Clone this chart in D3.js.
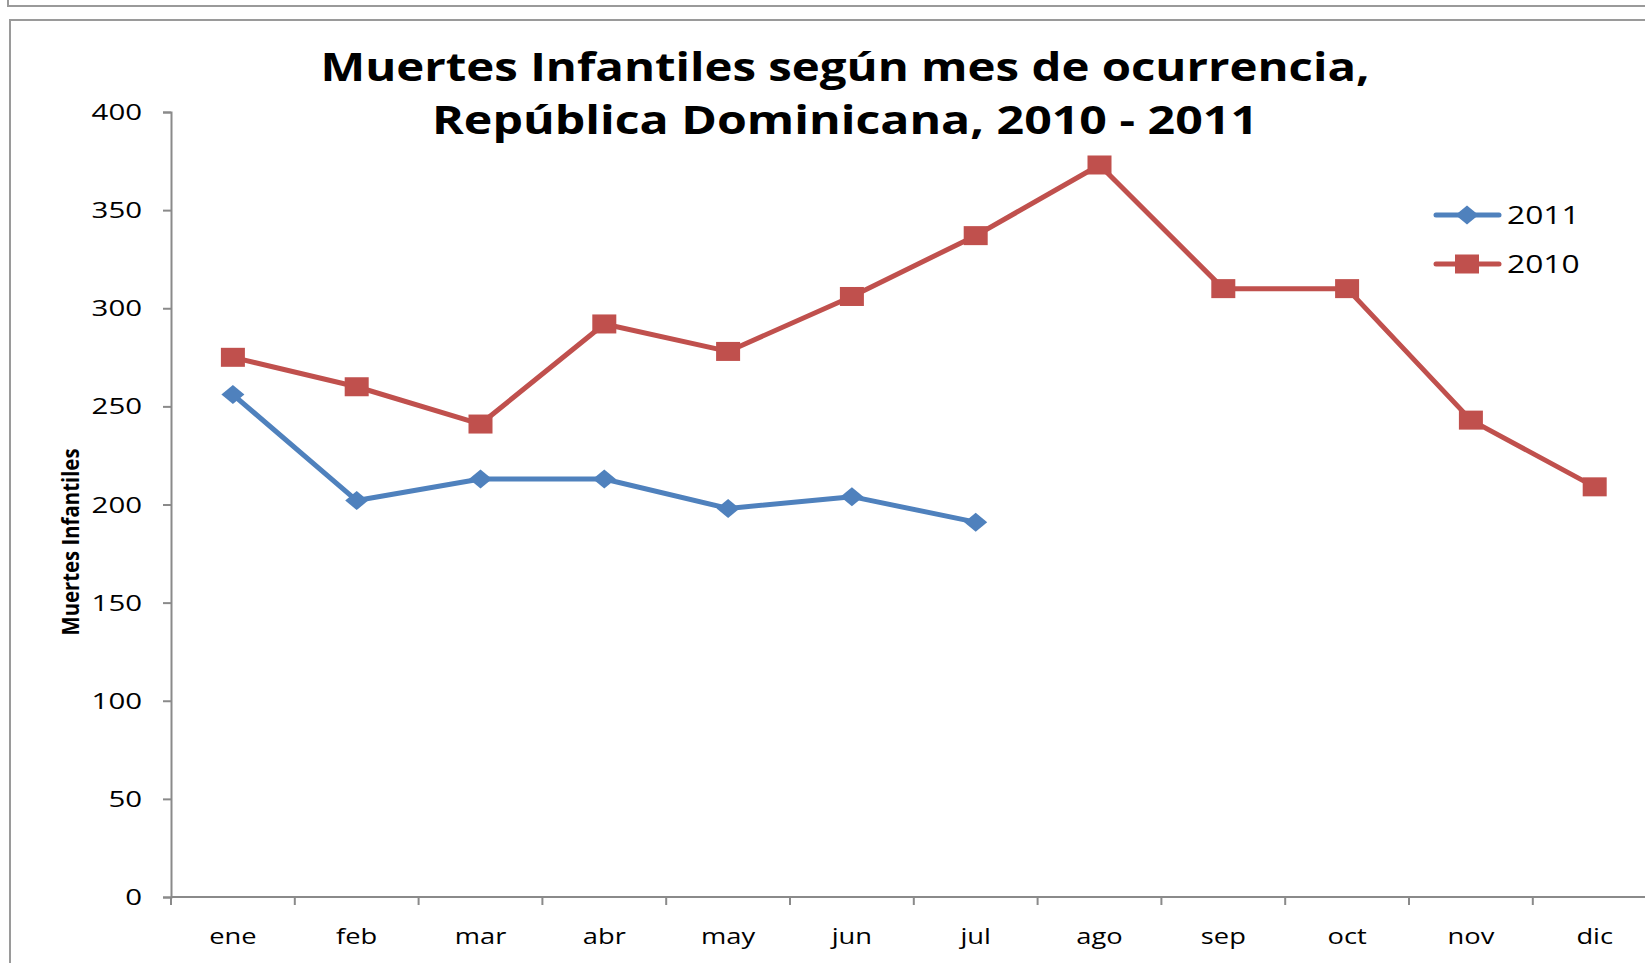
<!DOCTYPE html>
<html>
<head>
<meta charset="utf-8">
<script src="https://cdn.jsdelivr.net/npm/d3@7"></script>
<style>
  html, body { margin: 0; padding: 0; background: #fff; }
  svg { display: block; }
  text { font-family: "Open Sans", "DejaVu Sans", sans-serif; fill: #000; }
</style>
</head>
<body>
<svg id="chart" width="1645" height="963"></svg>
<script>
// ---- data ----
const months = ["ene","feb","mar","abr","may","jun","jul","ago","sep","oct","nov","dic"];
const values2010 = [275, 260, 241, 292, 278, 306, 337, 373, 310, 310, 243, 209];
const values2011 = [256, 202, 213, 213, 198, 204, 191];
const yTicks = [0, 50, 100, 150, 200, 250, 300, 350, 400];
const seriesNames = ["2011", "2010"];
const titleLines = ["Muertes Infantiles según mes de ocurrencia,", "República Dominicana, 2010 - 2011"];
const yTitle = "Muertes Infantiles";

// ---- layout ----
const W = 1645, H = 963;
const plotLeft = 171, plotTop = 112, plotBottom = 897, band = 123.8;
const blue = "#4F81BD", red = "#C0504D", axisCol = "#8a8a8a";

const svg = d3.select("#chart");

// stretch helper: widen text horizontally like the reference
function stretch(sel, k) {
  sel.each(function() {
    const len = this.getComputedTextLength();
    d3.select(this).attr("textLength", len * k).attr("lengthAdjust", "spacingAndGlyphs");
  });
}

// frames
svg.append("path").attr("d", `M8,0 V6 H${W}`).attr("fill", "none").attr("stroke", "#9a9a9a").attr("stroke-width", 2);
svg.append("path").attr("d", `M10,${H} V20 H${W}`).attr("fill", "none").attr("stroke", "#9a9a9a").attr("stroke-width", 2);

// scales
const x = d3.scaleBand().domain(months).range([plotLeft, plotLeft + band * months.length]);
const y = d3.scaleLinear().domain([0, 400]).range([plotBottom, plotTop]);
const cx = d => x(d) + x.bandwidth() / 2;

// y axis
const yAxis = svg.append("g").attr("transform", `translate(${plotLeft},0)`)
  .call(d3.axisLeft(y).tickValues(yTicks).tickSize(8).tickPadding(21));
yAxis.select(".domain").attr("stroke", axisCol).attr("stroke-width", 2);
yAxis.selectAll(".tick line").attr("stroke", axisCol).attr("stroke-width", 2);
yAxis.selectAll(".tick text").attr("font-size", 21).attr("font-family", "Open Sans").attr("dy", "0.36em");
stretch(yAxis.selectAll(".tick text"), 1.4);

// x axis
const xAxis = svg.append("g").attr("transform", `translate(0,${plotBottom})`)
  .call(d3.axisBottom(x).tickSize(0).tickPadding(0));
xAxis.select(".domain").attr("stroke", axisCol).attr("stroke-width", 2)
  .attr("d", `M${plotLeft},0H${W + 20}`);
xAxis.selectAll(".tick text").attr("font-size", 21).attr("font-family", "Open Sans")
  .attr("dy", null).attr("y", 47);
stretch(xAxis.selectAll(".tick text"), 1.3);
// boundary ticks (between categories)
xAxis.selectAll("line.bound").data(months).join("line").attr("class", "bound")
  .attr("x1", d => x(d)).attr("x2", d => x(d)).attr("y1", 0).attr("y2", 8)
  .attr("stroke", axisCol).attr("stroke-width", 2);

// y axis title
const yt = svg.append("text")
  .attr("transform", `translate(79,542) rotate(-90)`)
  .attr("text-anchor", "middle").attr("font-weight", "bold").attr("font-size", 23)
  .text(yTitle);
yt.attr("textLength", 187).attr("lengthAdjust", "spacingAndGlyphs");

// title
const titleWidths = [1049, 826];
const titleY = [81, 134];
titleLines.forEach((t, i) => {
  svg.append("text").attr("x", 845).attr("y", titleY[i]).attr("text-anchor", "middle")
    .attr("font-weight", "bold").attr("font-size", 40)
    .attr("textLength", titleWidths[i]).attr("lengthAdjust", "spacingAndGlyphs")
    .text(t);
});

// lines
const line = d3.line().x((d, i) => cx(months[i])).y(d => y(d));
svg.append("path").datum(values2010).attr("d", line).attr("fill", "none")
  .attr("stroke", red).attr("stroke-width", 5).attr("stroke-linejoin", "round");
svg.append("path").datum(values2011).attr("d", line).attr("fill", "none")
  .attr("stroke", blue).attr("stroke-width", 5).attr("stroke-linejoin", "round");

// markers
const sqW = 24, sqH = 19, dmW = 23, dmH = 19;
svg.selectAll("rect.m2010").data(values2010).join("rect").attr("class", "m2010")
  .attr("x", (d, i) => cx(months[i]) - sqW / 2).attr("y", d => y(d) - sqH / 2)
  .attr("width", sqW).attr("height", sqH).attr("fill", red);
const diamond = (px, py) => `M${px - dmW / 2},${py} L${px},${py - dmH / 2} L${px + dmW / 2},${py} L${px},${py + dmH / 2} Z`;
svg.selectAll("path.m2011").data(values2011).join("path").attr("class", "m2011")
  .attr("d", (d, i) => diamond(cx(months[i]), y(d))).attr("fill", blue);

// legend
const legY = [215, 264];
const legCol = [blue, red];
seriesNames.forEach((name, i) => {
  const g = svg.append("g");
  g.append("line").attr("x1", 1436).attr("x2", 1499).attr("y1", legY[i]).attr("y2", legY[i])
    .attr("stroke", legCol[i]).attr("stroke-width", 5).attr("stroke-linecap", "round");
  if (i === 0) g.append("path").attr("d", diamond(1467, legY[i])).attr("fill", blue);
  else g.append("rect").attr("x", 1467 - sqW / 2).attr("y", legY[i] - sqH / 2)
    .attr("width", sqW).attr("height", sqH).attr("fill", red);
  const t = g.append("text").attr("x", 1507).attr("y", legY[i] + 9).attr("font-size", 26).text(name);
  stretch(t, 1.22);
});
</script>
</body>
</html>
